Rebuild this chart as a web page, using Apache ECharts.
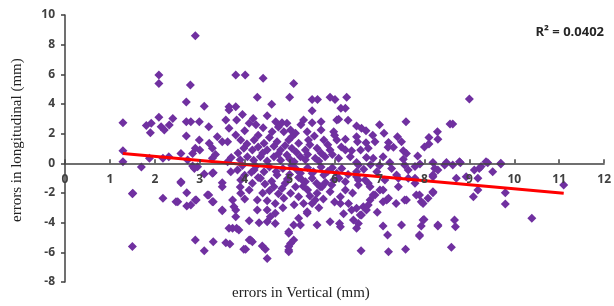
<!DOCTYPE html>
<html>
<head>
<meta charset="utf-8">
<script src="https://cdn.jsdelivr.net/npm/echarts@6/dist/echarts.min.js"></script>
<style>
  html, body { margin: 0; padding: 0; background: #fff; }
  #chart { width: 614px; height: 306px; }
</style>
</head>
<body>
<div id="chart"></div>
<script>
// errors in Vertical (x) vs errors in longitudinal (y)
const points = [
  [2.90,8.60],[2.09,5.95],[2.09,5.39],[2.79,5.28],[2.70,4.13],[3.10,3.84],[1.29,2.74],[1.81,2.55],
  [1.92,2.70],[2.09,3.10],[2.14,2.47],[2.21,2.25],[2.32,2.58],[2.40,3.03],[1.90,2.06],[2.70,2.81],
  [2.80,2.81],[2.99,2.81],[3.20,2.47],[2.70,1.84],[2.99,1.57],[3.39,1.79],[3.21,1.35],[3.28,1.01],
  [3.50,1.46],[3.62,1.46],[3.65,2.36],[3.58,2.92],[3.65,3.59],[3.65,3.82],[3.80,5.95],[4.01,5.95],
  [4.41,5.73],[2.90,1.01],[2.84,0.67],[2.58,0.67],[1.29,0.85],[1.29,0.11],[1.88,0.34],[2.18,0.34],
  [2.31,0.45],[2.73,0.22],[3.62,0.11],[3.28,0.34],[3.00,0.90],[3.35,0.60],
  [4.28,4.45],[5.00,4.45],[4.60,3.98],[3.80,3.82],[5.50,4.31],[5.62,4.31],[5.90,4.45],[6.01,4.31],
  [5.50,3.55],[6.14,3.71],[5.09,5.39],[3.82,2.92],[4.19,3.03],[4.10,2.70],[4.41,2.40],[4.69,2.81],
  [4.83,2.74],[4.94,2.70],[5.02,2.25],[5.31,2.92],[5.50,2.74],[5.70,2.81],[6.05,2.92],[4.61,2.13],
  [4.87,2.13],[5.13,2.02],[5.39,2.13],[5.70,2.25],[5.98,2.13],[3.80,1.91],[3.91,1.57],[4.21,1.57],
  [4.43,1.35],[4.72,1.46],[4.98,1.57],[5.20,1.35],[5.42,1.57],[5.76,1.57],[6.05,1.57],[3.98,1.01],
  [4.17,0.90],[4.50,0.90],[4.80,0.90],[5.05,1.01],[5.35,0.90],[5.61,1.01],[5.90,0.90],[4.06,0.45],
  [4.35,0.45],[4.65,0.45],[4.94,0.56],[5.24,0.45],[5.57,0.34],[5.79,0.45],[6.09,0.34],
  [4.00,2.20],[4.30,1.90],[4.55,1.75],[4.75,2.45],[5.05,1.80],[5.25,2.60],[5.55,1.85],[5.85,1.25],
  [4.05,1.30],[4.30,1.10],[4.65,1.15],[4.90,1.20],[5.15,0.75],[5.45,1.25],[5.70,0.70],[3.85,0.70],
  [4.40,0.70],[4.75,0.65],[5.00,0.30],[5.40,0.60],[3.70,0.40],[3.90,0.25],[4.20,0.20],[4.50,0.15],
  [4.80,0.20],[5.10,0.10],[5.35,0.25],[5.65,0.15],[5.95,0.60],[6.15,1.10],[6.00,1.90],[4.25,2.60],
  [3.95,3.30],[4.50,3.20],
  [6.27,4.45],[6.24,3.71],[7.59,2.81],[8.57,2.65],[6.49,2.52],[6.60,2.36],[6.70,2.20],[7.10,2.02],
  [6.49,1.79],[6.24,1.62],[6.51,1.46],[6.70,1.39],[6.90,1.46],[7.49,1.46],[8.29,2.13],[8.10,1.75],
  [8.30,1.62],[8.10,1.30],[7.19,1.08],[7.31,1.08],[7.53,0.85],[7.60,0.67],[6.24,0.90],[6.38,0.85],
  [6.58,0.90],[6.75,1.01],[7.08,0.45],[6.86,0.34],[6.71,0.40],[6.35,0.45],[7.53,0.27],[6.49,0.05],
  [7.23,0.05],[8.19,0.05],[8.49,0.05],[6.30,2.90],[9.00,4.34],[8.63,2.65],[8.78,0.11],[9.37,0.11],
  [9.70,0.00],[6.09,2.97],[8.00,1.10],[7.85,0.50],[7.40,1.80],[7.00,2.60],[6.85,1.90],[7.20,1.40],
  [1.70,-0.25],[1.50,-2.05],[1.50,-5.60],[2.18,-2.36],[2.51,-2.59],[2.58,-1.31],[2.71,-1.98],[2.71,-2.88],
  [2.80,-2.81],[2.90,-2.47],[2.90,-5.17],[3.10,-5.89],[3.30,-5.29],[3.58,-5.35],[3.67,-5.44],[3.20,-2.14],
  [3.30,-2.59],[3.50,-3.19],[3.10,-0.72],[3.30,-0.63],[3.50,-1.31],[3.50,-1.58],[2.95,-0.23],[2.84,-0.18],
  [3.73,-4.38],[3.73,-2.47],[3.69,-0.56],
  [4.50,-6.41],[4.10,-5.17],[4.17,-5.29],[3.98,-5.80],[4.39,-5.58],[4.46,-5.80],[4.98,-5.85],[5.02,-5.40],
  [5.09,-5.17],[4.98,-4.72],[4.98,-5.60],[4.10,-3.87],[3.82,-4.38],[4.32,-4.00],[4.50,-3.94],[4.57,-3.60],
  [4.68,-3.37],[4.28,-3.15],[4.50,-3.15],[4.28,-2.47],[4.50,-2.52],[4.68,-2.70],[4.87,-2.36],[5.02,-2.02],
  [5.20,-2.25],[5.31,-2.70],[5.50,-2.70],[5.39,-3.37],[5.20,-3.71],[5.09,-4.16],[5.24,-4.16],[5.61,-4.16],
  [5.90,-3.94],[6.11,-4.05],[5.61,-2.02],[5.72,-1.58],[5.90,-1.91],[6.13,-2.25],[5.98,-1.13],[3.91,-2.02],
  [4.10,-1.80],[4.17,-1.35],[3.91,-1.13],[4.65,-1.58],[4.83,-1.69],[5.13,-1.58],[5.35,-1.24],[4.72,-0.79],
  [4.43,-0.56],[4.21,-0.45],[3.84,-0.45],[5.24,-0.67],[5.53,-0.56],[5.76,-0.79],[6.05,-0.67],[3.80,-3.15],
  [3.87,-4.50],[3.76,-2.93],[3.80,-3.60],[3.65,-4.38],
  [3.95,-0.15],[4.25,-0.20],[4.55,-0.25],[4.85,-0.35],[5.05,-0.15],[5.40,-0.30],[5.70,-0.25],[5.95,-0.30],
  [4.00,-0.80],[4.35,-1.00],[4.60,-1.20],[4.95,-1.05],[5.20,-0.95],[5.50,-1.00],[5.80,-1.30],[4.00,-2.40],
  [4.40,-2.00],[4.75,-2.05],[5.40,-1.80],[5.75,-2.40],[6.00,-2.60],[4.85,-3.00],[5.10,-2.80],[5.65,-3.00],
  [11.10,-1.46],[10.39,-3.71],[9.80,-1.98],[9.80,-2.74],[9.70,-0.05],[9.52,-0.56],[9.41,0.04],[9.22,-0.34],
  [9.19,-1.80],[9.09,-2.25],[9.19,-1.01],[8.80,0.04],[8.63,-0.11],[8.71,-1.01],[8.67,-3.82],[8.69,-4.27],
  [8.60,-5.66],[8.30,-4.23],[8.19,-1.98],[8.08,-2.36],[7.97,-2.70],[7.99,-3.78],[7.93,-4.23],[7.89,-4.90],
  [7.82,-2.14],[7.79,-1.35],[8.19,-0.90],[8.23,-0.34],[8.45,-0.11],[7.56,-2.47],[7.49,-4.16],[7.58,-5.80],
  [7.20,-5.96],[7.18,-4.83],[7.08,-4.23],[6.59,-5.89],[7.37,-2.70],[7.16,-2.47],[7.01,-1.80],[7.42,-1.58],
  [7.64,-1.01],[6.79,-2.47],[6.86,-2.14],[6.64,-2.93],[6.57,-3.49],[6.53,-4.05],[6.49,-4.38],[6.75,-2.81],
  [6.42,-3.82],[6.13,-2.70],[6.13,-4.27],[5.39,-3.26],[5.57,-2.47],[6.24,-1.80],[5.94,-1.46],[5.68,-1.58],
  [5.28,-1.13],[5.50,-0.67],[6.16,-0.34],[6.49,-0.56],[6.94,-0.56],[7.27,-0.34],[7.56,-0.11],[7.79,-0.22],
  [6.53,-1.13],[6.75,-1.35],[7.12,-1.13],[7.42,-1.01],[6.71,-3.15],[6.49,-3.03],[6.38,-3.15],[6.31,-2.70],
  [7.08,-2.59],[7.20,-2.36],[7.60,-2.47],[7.93,-2.59],[8.19,-1.91],[7.89,-2.14],[7.08,-1.80],[6.90,-2.14],
  [6.79,-1.58],[6.53,-1.46],[6.24,-1.24],[6.49,-0.90],[6.68,-1.13],[7.38,-0.79],[7.64,-0.45],[7.79,-1.01],
  [8.30,-0.45],[8.19,-0.79],[6.53,-0.11],[6.80,-0.10],[7.00,-0.15],[7.90,-0.05],[9.26,-0.22],[9.11,-0.45],
  [8.93,-0.90],[7.89,-4.83],[8.30,-4.16],[7.97,-3.82],[6.60,-3.49],[6.40,-2.00],[6.20,-3.40],[6.95,-3.30],
  [2.58,-1.24],[2.47,-2.59],[1.51,-2.02],[2.92,-2.47],[3.17,-2.14],[3.28,-2.59],[3.28,-0.67],[2.88,-0.34],
  [3.50,-3.15],[4.02,-5.80],[4.13,-5.17],[4.68,-4.05],[4.98,-4.61],[4.98,-5.96],
  [4.15,-0.60],[4.45,-1.40],[4.70,-0.55],[5.00,-0.75],[5.30,-1.55],[5.60,-1.35],[5.85,-0.55],[6.10,-1.00],
  [4.30,-0.95],[4.90,-1.35],[5.15,-0.40],[5.45,-2.20],[3.90,-1.60],[4.55,-1.85],[6.30,-0.75],[6.65,-0.40]
];

// linear trendline endpoints
const trendX = [1.29, 11.1];
const trendY = [0.67, -2.02];
const rSquared = 'R² = 0.0402';

const yMin = -8;
const yMax = 10;
const axisColor = '#404040';
const labelFont = '"Open Sans"';

// grid box, and the x axis moved up from the bottom edge to y = 0
const gridTop = 15;
const gridBottom = 24;
const gridHeight = 306 - gridTop - gridBottom;
const xAxisOffset = -gridHeight * (0 - yMin) / (yMax - yMin);

let myChart = echarts.init(document.getElementById('chart'));

myChart.setOption({
    animation: false,
    backgroundColor: '#fff',
    grid: {
        left: 65,
        right: 7,
        top: gridTop,
        bottom: gridBottom
    },
    xAxis: {
        type: 'value',
        position: 'bottom',
        offset: xAxisOffset,
        zlevel: 1,
        min: 0,
        max: 12,
        interval: 1,
        splitLine: { show: false },
        axisLine: {
            onZero: false,
            lineStyle: { color: axisColor, width: 1.5 }
        },
        axisTick: {
            inside: true,
            length: 4,
            lineStyle: { color: axisColor, width: 1.5 }
        },
        axisLabel: {
            margin: 10,
            color: axisColor,
            fontFamily: labelFont,
            fontWeight: 'bold',
            fontSize: 12
        }
    },
    yAxis: {
        type: 'value',
        zlevel: 1,
        min: yMin,
        max: yMax,
        interval: 2,
        splitLine: { show: false },
        axisLine: {
            show: true,
            onZero: false,
            lineStyle: { color: axisColor, width: 1.5 }
        },
        axisTick: {
            show: true,
            length: 4,
            lineStyle: { color: axisColor, width: 1.5 }
        },
        axisLabel: {
            margin: 10,
            color: axisColor,
            fontFamily: labelFont,
            fontWeight: 'bold',
            fontSize: 12
        }
    },
    graphic: [
        {
            type: 'text',
            left: 232,
            top: 286,
            style: {
                text: 'errors in Vertical (mm)',
                fill: '#222',
                font: '15px "Liberation Serif"'
            }
        },
        {
            type: 'text',
            x: 10,
            y: 222,
            rotation: Math.PI / 2,
            style: {
                text: 'errors in longitudinal (mm)',
                fill: '#222',
                font: '15px "Liberation Serif"'
            }
        },
        {
            type: 'text',
            right: 10,
            top: 26,
            style: {
                text: rSquared,
                fill: '#262626',
                font: 'bold 13px "Open Sans"'
            }
        }
    ],
    series: [
        {
            type: 'scatter',
            symbol: 'diamond',
            symbolSize: 9,
            itemStyle: { color: '#7030A0', opacity: 1 },
            data: points
        },
        {
            type: 'line',
            symbol: 'none',
            lineStyle: { color: '#FF0000', width: 3 },
            data: trendX.map((x, i) => [x, trendY[i]])
        }
    ]
});
</script>
</body>
</html>
